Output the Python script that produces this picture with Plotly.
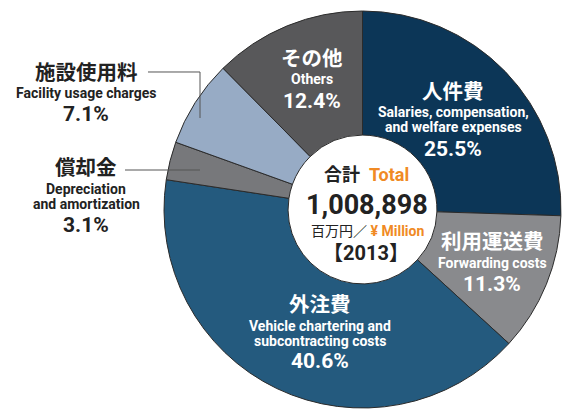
import plotly.graph_objects as go

W, H = 563, 409

# --- data ---
labels_jp = ["人件費", "利用運送費", "外注費", "償却金", "施設使用料", "その他"]
labels_en = [["Salaries, compensation,", "and welfare expenses"], ["Forwarding costs"],
             ["Vehicle chartering and", "subcontracting costs"], ["Depreciation", "and amortization"],
             ["Facility usage charges"], ["Others"]]
shares = [25.5, 11.3, 40.6, 3.1, 7.1, 12.4]
total_value = "1,008,898"
year = "2013"

COLORS = ["#0c3657", "#898a8d", "#245a7e", "#77787b", "#97abc5", "#58585a"]
ORANGE = "#f08a24"
JP = "Noto Sans CJK JP"
LAT = "Roboto, Noto Sans CJK JP"

def px(x, y):
    return x / W, 1 - y / H

fig = go.Figure(go.Pie(
    values=shares, labels=labels_jp, sort=False, direction="clockwise", rotation=0,
    hole=0.375, marker=dict(colors=COLORS, line=dict(color="#2b2b2b", width=1)),
    textinfo="none", hoverinfo="label+percent", showlegend=False,
    domain=dict(x=[164 / W, 561 / W], y=[1 - 408 / H, 1 - 11 / H]),
))

annos = []
def txt(x, y, s, size, color="white", family=LAT):
    ax, ay = px(x, y)
    annos.append(dict(x=ax, y=ay, xref="paper", yref="paper", text=s, showarrow=False,
                      xanchor="center", yanchor="middle",
                      font=dict(size=size, color=color, family=family)))

# (label centre x, y of jp line, y of first english line, y of pct, colour)
placements = [
    (453, 90, 112, 149, "white"),
    (492, 240, 263, 284, "white"),
    (320, 303, 326, 361, "white"),
    (86, 166, 189, 225, "#222222"),
    (86, 71, 93, 114, "#222222"),
    (312, 57, 79, 101, "white"),
]
for i, (cx, yj, ye, yp, col) in enumerate(placements):
    txt(cx, yj, "<b>" + labels_jp[i] + "</b>", 20.5, col, JP)
    for k, ln in enumerate(labels_en[i]):
        txt(cx, ye + 15 * k, "<b>" + ln + "</b>", 14, col)
    txt(cx, yp, "<b>%.1f%%</b>" % shares[i], 21, col)

# centre text
txt(366, 175, "<b>合計</b>  <b><span style='color:%s'>Total</span></b>" % ORANGE, 18, "#222222")
txt(367, 205, "<b>" + total_value + "</b>", 27, "#222222")
txt(367, 231, "百万円／ <span style='color:%s'><b>¥ Million</b></span>" % ORANGE, 14, "#222222")
txt(366, 253, "<b>【" + year + "】</b>", 20, "#222222")

# leader lines
shapes = []
def line(points):
    path = "M " + " L ".join("%f,%f" % px(x, y) for x, y in points)
    shapes.append(dict(type="path", path=path, xref="paper", yref="paper",
                       line=dict(color="#555555", width=1)))
line([(148, 72), (200, 72), (200, 118)])
line([(125, 170), (200, 170)])

fig.update_layout(
    width=W, height=H, margin=dict(l=0, r=0, t=0, b=0),
    paper_bgcolor="white", plot_bgcolor="white",
    annotations=annos, shapes=shapes,
)
fig.write_html("out.html", config={"displayModeBar": False},
               post_script="document.body.style.margin='0px';")
